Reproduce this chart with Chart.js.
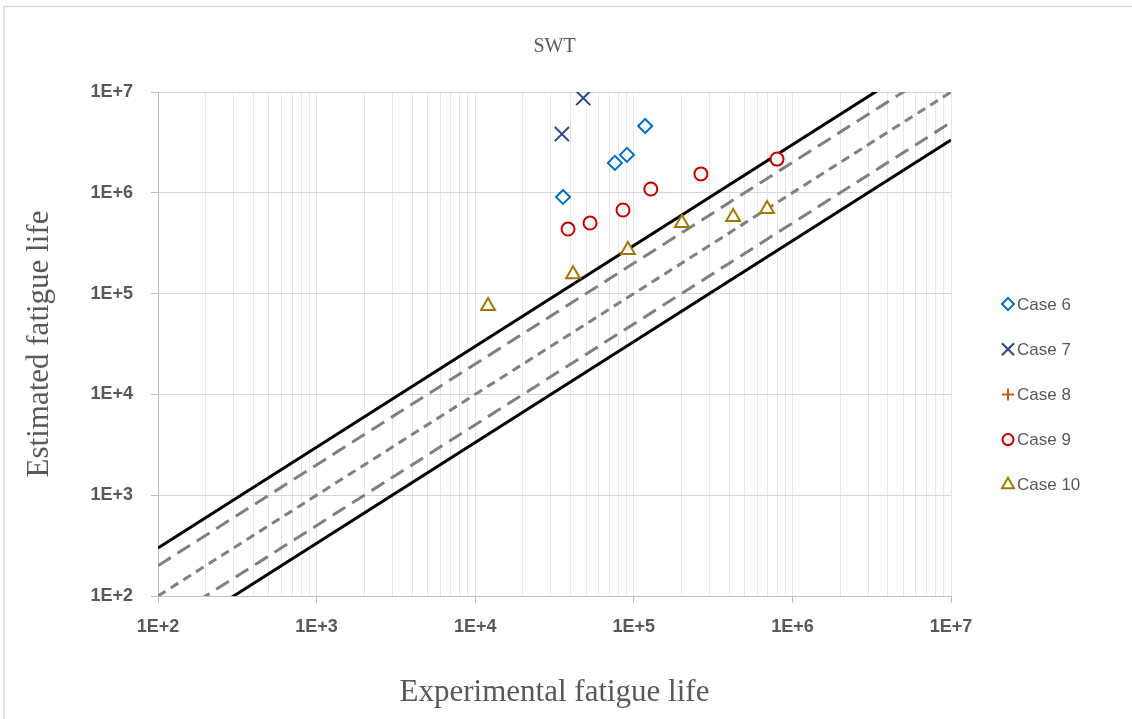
<!DOCTYPE html>
<html>
<head>
<meta charset="utf-8">
<title>SWT</title>
<script src="https://cdn.jsdelivr.net/npm/chart.js@4.4.1/dist/chart.umd.min.js"></script>
<style>
  html, body { margin: 0; padding: 0; background: #fff; }
  #wrap { position: relative; width: 1132px; height: 719px; }
</style>
</head>
<body>
<div id="wrap"><canvas id="swtChart" width="1132" height="719"></canvas></div>
<script>
// Experimental vs. estimated fatigue life (cycles), SWT criterion
const case6Exp = [35800, 76000, 90500, 118000];
const case6Est = [910000, 1980000, 2380000, 4600000];
const case7Exp = [35200, 48000];
const case7Est = [3830000, 8700000];
const case8Exp = [];
const case8Est = [];
const case9Exp = [38500, 53000, 85500, 128000, 265000, 800000];
const case9Est = [437000, 501000, 675000, 1090000, 1540000, 2160000];
const case10Exp = [12050, 41400, 91800, 201000, 423000, 692000];
const case10Est = [75300, 156000, 271000, 501000, 575000, 690000];

// scatter bands: x3, x2, x1, x1/2, x1/3
const bandX = [100, 10000000];
const band3 = [300, 30000000];
const band2 = [200, 20000000];
const band1 = [100, 10000000];
const bandHalf = [50, 5000000];
const bandThird = [33.3, 3333333];

const decades = [1e2, 1e3, 1e4, 1e5, 1e6, 1e7];
const tickLabels = ['1E+2', '1E+3', '1E+4', '1E+5', '1E+6', '1E+7'];

const pts = (xs, ys) => xs.map((x, i) => ({ x: x, y: ys[i] }));

function marker(label, xs, ys, style, color, radius, legendRadius) {
    return {
        label: label, data: pts(xs, ys), legendItem: true, legendRadius: legendRadius,
        pointStyle: style, pointRadius: radius, pointHoverRadius: radius,
        borderColor: color, pointBorderColor: color, pointBackgroundColor: '#ffffff',
        pointBorderWidth: 2, showLine: false
    };
}

function band(ys, color, width, dash) {
    return {
        label: '', data: pts(bandX, ys), showLine: true, pointRadius: 0,
        borderColor: color, borderWidth: width, borderDash: dash, fill: false, clip: 0
    };
}

const tickLabel = (v) => {
    const i = decades.indexOf(v);
    return i >= 0 ? tickLabels[i] : '';
};

const serif = '"Liberation Serif", "Times New Roman", serif';

// outer frame (left and top edges) and the chart title over the plot area
const framePlugin = {
    id: 'frame',
    beforeDraw(chart) {
        const ctx = chart.ctx;
        ctx.save();
        ctx.strokeStyle = '#d9d9d9';
        ctx.lineWidth = 1.5;
        ctx.beginPath();
        ctx.moveTo(4, chart.height);
        ctx.lineTo(4, 6.5);
        ctx.lineTo(chart.width, 6.5);
        ctx.stroke();
        ctx.restore();
    },
    afterDraw(chart) {
        const ctx = chart.ctx;
        const area = chart.chartArea;
        ctx.save();
        ctx.fillStyle = '#595959';
        ctx.font = '20px ' + serif;
        ctx.textAlign = 'center';
        ctx.textBaseline = 'middle';
        ctx.fillText('SWT', (area.left + area.right) / 2, 47);
        ctx.restore();
    }
};

// legend column on the right
const sideLegend = {
    id: 'sideLegend',
    afterDraw(chart) {
        const ctx = chart.ctx;
        const items = chart.data.datasets.filter(d => d.legendItem);
        ctx.save();
        items.forEach((ds, i) => {
            const y = 304 + i * 45.2;
            ctx.strokeStyle = ds.borderColor;
            ctx.fillStyle = '#ffffff';
            ctx.lineWidth = 2;
            Chart.helpers.drawPoint(ctx, { pointStyle: ds.pointStyle, radius: ds.legendRadius, borderWidth: 2, rotation: 0 }, 1008, y);
            ctx.fillStyle = '#595959';
            ctx.font = '17px "Liberation Sans", Arial, sans-serif';
            ctx.textAlign = 'left';
            ctx.textBaseline = 'middle';
            ctx.fillText(ds.label, 1017, y + 1);
        });
        ctx.restore();
    }
};

const tickFont = { family: '"Liberation Sans", Arial, sans-serif', size: 18, weight: 'bold' };

new Chart(document.getElementById('swtChart').getContext('2d'), {
    type: 'scatter',
    data: {
        datasets: [
            marker('Case 6', case6Exp, case6Est, 'rectRot', '#0070c0', 7, 6),
            marker('Case 7', case7Exp, case7Est, 'crossRot', '#2e4780', 10, 8.5),
            marker('Case 8', case8Exp, case8Est, 'cross', '#c55a11', 7, 6),
            marker('Case 9', case9Exp, case9Est, 'circle', '#c00000', 6.5, 5.5),
            marker('Case 10', case10Exp, case10Est, 'triangle', '#9e7b00', 8, 7),
            band(band3, '#000000', 3, []),
            band(band2, '#808080', 3, [15, 8]),
            band(band1, '#808080', 3, [9, 6]),
            band(bandHalf, '#808080', 3, [15, 8]),
            band(bandThird, '#000000', 3, [])
        ]
    },
    options: {
        responsive: false,
        animation: false,
        devicePixelRatio: 1,
        layout: { padding: { left: 0, right: 181, top: 92, bottom: 0 } },
        plugins: {
            legend: { display: false },
            tooltip: { enabled: false },
            title: { display: false }
        },
        scales: {
            x: {
                type: 'logarithmic', min: 100, max: 10000000,
                afterFit: (s) => { s.height = 123; },
                afterBuildTicks: (s) => {
                    const ticks = [];
                    decades.forEach((d, i) => {
                        if (i === decades.length - 1) { ticks.push({ value: d }); return; }
                        for (let m = 1; m < 10; m++) ticks.push({ value: d * m });
                    });
                    s.ticks = ticks;
                },
                ticks: { callback: tickLabel, autoSkip: false, maxRotation: 0, color: '#595959', font: tickFont, padding: 13 },
                grid: {
                    color: '#e6e6e6', lineWidth: 1, tickLength: 7,
                    tickColor: (c) => decades.includes(c.tick && c.tick.value) ? '#bfbfbf' : 'rgba(0,0,0,0)'
                },
                border: { color: '#bfbfbf', width: 1 },
                title: {
                    display: true, text: 'Experimental fatigue life', color: '#595959',
                    font: { family: serif, size: 31, weight: 'normal' },
                    padding: { top: 0, bottom: 8 }
                }
            },
            y: {
                type: 'logarithmic', min: 100, max: 10000000,
                afterFit: (s) => { s.width = 158; },
                afterBuildTicks: (s) => { s.ticks = decades.map(v => ({ value: v })); },
                ticks: { callback: tickLabel, autoSkip: false, color: '#595959', font: tickFont, padding: 18 },
                grid: { color: '#d6d6d6', lineWidth: 1, tickLength: 7, tickColor: '#bfbfbf' },
                border: { color: '#bfbfbf', width: 1 },
                title: {
                    display: true, text: 'Estimated fatigue life', color: '#595959',
                    font: { family: serif, size: 31, weight: 'normal' },
                    padding: { top: 21, bottom: 0 }
                }
            }
        }
    },
    plugins: [framePlugin, sideLegend]
});
</script>
</body>
</html>
